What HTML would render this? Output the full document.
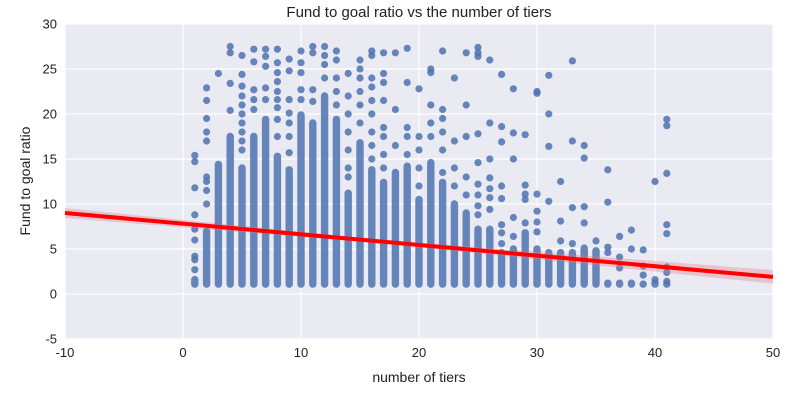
<!DOCTYPE html>
<html><head><meta charset="utf-8"><style>
body{margin:0;background:#fff;width:800px;height:400px;overflow:hidden;font-family:"Liberation Sans",Arial,sans-serif}
</style></head><body>
<svg id="chart" width="800" height="400" xmlns="http://www.w3.org/2000/svg" font-family="Liberation Sans, Arial, sans-serif">
<text x="419" y="17" font-size="15" text-anchor="middle" fill="#222">Fund to goal ratio vs the number of tiers</text>
<text x="419" y="382" font-size="14" text-anchor="middle" fill="#222">number of tiers</text>
<text x="30" y="181" font-size="14" text-anchor="middle" fill="#222" transform="rotate(-90 30 181)">Fund to goal ratio</text>
<g id="plot"></g>
</svg>
<script>
const xTicks=[-10,0,10,20,30,40,50];
const yTicks=[-5,0,5,10,15,20,25,30];
const tiers=[1,2,3,4,5,6,7,8,9,10,11,12,13,14,15,16,17,18,19,20,21,22,23,24,25,26,27,28,29,30,31,32,33,34,35,36,37,38,39,40,41];
const bandTop=[1.6,7,14.4,17.5,14,17.5,19.4,15.3,13.8,19.9,19,22,19.4,11.2,16.8,13.8,12.4,13.5,14.2,10.5,14.6,12.4,10,9,7.2,7.2,4.6,5,6.8,5,4.6,4.6,4.6,5.1,4.8,1.2,1.2,1.2,1.1,1.2,1.1];
const outliers=[[1,2.7],[1,3.8],[1,4.2],[1,6],[1,7.2],[1,8.8],[1,11.8],[1,14.7],[1,15.4],
[2,10],[2,11.5],[2,12.5],[2,13],[2,17],[2,18],[2,19.5],[2,21.5],[2,22.9],[3,24.5],
[4,20.4],[4,23.4],[4,26.8],[4,27.5],[5,16],[5,17],[5,18],[5,19],[5,20],[5,21],[5,22],[5,23.1],[5,24.4],[5,26.5],
[6,20.5],[6,21.6],[6,22.7],[6,25.8],[6,27.2],[7,21.6],[7,22.9],[7,25.3],[7,26.4],[7,27.2],
[8,17.5],[8,19.4],[8,20.7],[8,21.6],[8,22.5],[8,23.6],[8,24.6],[8,25.7],[8,27.2],
[9,15.7],[9,17.5],[9,19],[9,20.1],[9,21.6],[9,24.8],[9,26.1],[10,21.6],[10,22.7],[10,24.6],[10,25.7],[10,27],
[11,21.4],[11,22.7],[11,26.8],[11,27.5],[12,24],[12,25.5],[12,26.5],[12,27.5],[13,21],[13,22.5],[13,24],[13,26],[13,27],
[14,13],[14,14],[14,16],[14,18],[14,20],[14,22],[14,24.5],[15,19],[15,21],[15,22.5],[15,24],[15,25],[15,26],
[16,15],[16,16.5],[16,18],[16,20],[16,21.5],[16,23],[16,24],[16,26.5],[16,27],[17,14],[17,15.5],[17,17.5],[17,18.5],[17,21.5],[17,23.5],[17,24.5],[17,26.8],
[18,16.5],[18,20.5],[18,26.8],[19,15.5],[19,17.5],[19,18.5],[19,23.5],[19,27.3],[20,12],[20,14],[20,16],[20,17.5],[20,22.8],
[21,17.5],[21,19],[21,21],[21,24.6],[21,25],[22,13.5],[22,16],[22,18],[22,19.5],[22,20.5],[22,27],
[23,12],[23,14],[23,17],[23,24],[24,11],[24,13],[24,17.5],[24,21],[24,26.8],
[25,27.4],[25,26.8],[25,26.4],[25,17.8],[25,14.6],[25,12.2],[25,11],[25,9.8],[25,8.8],
[26,26],[26,19],[26,15],[26,12.9],[26,11.7],[26,10.7],[26,9.4],[27,24.4],[27,18.6],[27,16.9],[27,12],[27,10.6],[27,7.7],[27,6.8],[27,5.6],
[28,22.8],[28,17.9],[28,15],[28,8.5],[28,6.4],[29,17.7],[29,12.1],[29,11.1],[29,10.5],[29,7.9],
[30,22.5],[30,22.3],[30,11.1],[30,9.2],[30,8],[30,6.9],[31,24.3],[31,20],[31,16.4],[31,10.3],
[32,12.5],[32,8.1],[32,5.9],[33,25.9],[33,17],[33,9.6],[33,5.6],[34,16.5],[34,15.1],[34,9.7],[34,7.9],
[35,5.9],[36,13.8],[36,10.2],[36,5.2],[36,4.6],[37,6.4],[37,4.1],[37,2.9],[38,7.1],[38,5],[39,4.9],[39,3.1],[39,2.1],
[40,12.5],[40,1.6],[41,19.4],[41,18.7],[41,13.4],[41,7.7],[41,6.7],[41,3],[41,2.4],[41,1.4]];
const fitX=[-10,50];
const fitY=[9.0,1.9];
const ciHalf=[0.55,0.75];

const X0=65,X1=773,Y0=339,Y1=24;
const sx=v=>X0+(v+10)/60*(X1-X0);
const sy=v=>Y0-(v+5)/35*(Y0-Y1);
const NS="http://www.w3.org/2000/svg";
const g=document.getElementById('plot');
function mk(t,a){const e=document.createElementNS(NS,t);for(const k in a)e.setAttribute(k,a[k]);return e;}
let bg=mk('rect',{x:X0,y:Y1,width:X1-X0,height:Y0-Y1,fill:'#eaeaf2'});


g.appendChild(bg);
xTicks.forEach(t=>{
 const l=mk('line',{x1:sx(t),x2:sx(t),y1:Y1,y2:Y0,stroke:'#fff','stroke-width':1.2});
 
 
 g.appendChild(l);
 const tx=mk('text',{x:sx(t),y:357,'font-size':13,'text-anchor':'middle',fill:'#222'});
 tx.textContent=t;
 
 
 g.appendChild(tx);
});
yTicks.forEach(t=>{
 const l=mk('line',{x1:X0,x2:X1,y1:sy(t),y2:sy(t),stroke:'#fff','stroke-width':1.2});
 
 
 g.appendChild(l);
 const tx=mk('text',{x:57,y:sy(t)+4.5,'font-size':13,'text-anchor':'end',fill:'#222'});
 tx.textContent=t;
 
 
 g.appendChild(tx);
});
const col='rgba(76,114,176,0.85)';
tiers.forEach((t,i)=>{
 const top=sy(bandTop[i]),bot=sy(1.1);
 const r=mk('rect',{x:sx(t)-3.7,y:top-3.7,width:7.4,height:bot-top+7.4,rx:3.7,fill:col});
 
 
 g.appendChild(r);
});
outliers.forEach(p=>{
 const c=mk('circle',{cx:sx(p[0]),cy:sy(p[1]),r:3.6,fill:col});
 
 
 g.appendChild(c);
});
const ci=mk('polygon',{points:`${sx(fitX[0])},${sy(fitY[0]+ciHalf[0])} ${sx(16)},${sy(fitY[0]+(fitY[1]-fitY[0])*26/60+0.2)} ${sx(fitX[1])},${sy(fitY[1]+ciHalf[1])} ${sx(fitX[1])},${sy(fitY[1]-ciHalf[1])} ${sx(16)},${sy(fitY[0]+(fitY[1]-fitY[0])*26/60-0.2)} ${sx(fitX[0])},${sy(fitY[0]-ciHalf[0])}`,fill:'rgba(230,120,140,0.35)'});


g.appendChild(ci);
const fl=mk('line',{x1:sx(fitX[0]),y1:sy(fitY[0]),x2:sx(fitX[1]),y2:sy(fitY[1]),stroke:'#ff0000','stroke-width':4});


g.appendChild(fl);
</script>
</body></html>
